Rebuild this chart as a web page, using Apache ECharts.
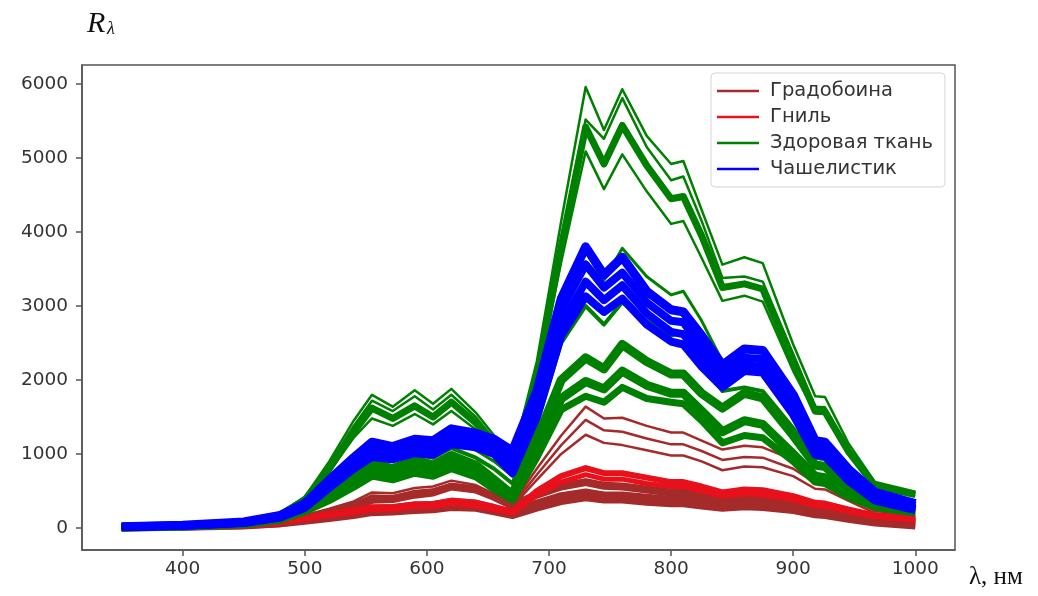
<!DOCTYPE html>
<html>
<head>
<meta charset="utf-8">
<script src="https://cdn.jsdelivr.net/npm/echarts@6/dist/echarts.min.js"></script>
<style>
html, body { margin: 0; padding: 0; background: #fff; }
#chart { width: 1038px; height: 596px; }
</style>
</head>
<body>
<div id="chart"></div>
<script>
// длины волн, нм
const wavelengths = [350, 400, 450, 480, 500, 520, 540, 555, 572, 590, 605, 620, 640, 655, 670, 690, 710,
  730, 745, 760, 780, 800, 810, 825, 842, 860, 875, 900, 918, 926, 945, 967, 1000];
const xTicks = [400, 500, 600, 700, 800, 900, 1000];
const yTicks = [0, 1000, 2000, 3000, 4000, 5000, 6000];
const names = ['Градобоина', 'Гниль', 'Здоровая ткань', 'Чашелистик'];

// Градобоина
const hail1 = [10, 25, 50, 100, 170, 260, 360, 480, 470, 540, 560, 640, 580, 460, 330, 800, 1250, 1640, 1480, 1490, 1380, 1290, 1290, 1180, 1060, 1110, 1090, 920, 700, 680, 480, 260, 190];
const hail2 = [10, 24, 48, 95, 160, 240, 330, 440, 430, 500, 520, 590, 540, 430, 310, 720, 1120, 1460, 1320, 1300, 1210, 1130, 1130, 1040, 920, 960, 950, 800, 610, 600, 420, 230, 170];
const hail3 = [9, 22, 45, 90, 150, 220, 300, 400, 400, 460, 480, 550, 500, 400, 290, 650, 1000, 1260, 1150, 1120, 1050, 980, 980, 900, 780, 830, 820, 700, 530, 520, 370, 200, 150];
const hail4 = [8, 20, 40, 80, 140, 210, 300, 380, 390, 450, 480, 560, 520, 420, 300, 450, 560, 620, 570, 560, 520, 480, 480, 430, 380, 410, 400, 340, 270, 260, 200, 130, 80];
const hail5 = [6, 15, 32, 65, 110, 160, 210, 260, 270, 300, 310, 350, 330, 270, 200, 330, 430, 480, 440, 440, 410, 380, 380, 340, 300, 330, 320, 270, 210, 200, 150, 90, 50];
const hail6 = [5, 12, 25, 50, 85, 120, 160, 200, 210, 230, 240, 270, 260, 210, 160, 260, 350, 400, 370, 370, 340, 320, 320, 290, 260, 280, 270, 230, 170, 160, 110, 60, 20];

// Гниль
const rot1 = [8, 20, 40, 80, 130, 190, 240, 280, 280, 320, 320, 370, 340, 280, 220, 500, 700, 810, 740, 740, 680, 620, 620, 560, 480, 520, 510, 430, 340, 330, 250, 170, 120];
const rot2 = [7, 18, 36, 72, 120, 170, 210, 250, 250, 290, 290, 330, 300, 250, 200, 450, 620, 720, 660, 660, 600, 560, 560, 500, 430, 460, 450, 380, 300, 290, 220, 150, 100];

// Здоровая ткань
const leaf1 = [20, 40, 90, 200, 420, 900, 1450, 1800, 1640, 1860, 1680, 1880, 1560, 1250, 950, 2250, 4150, 5960, 5380, 5930, 5300, 4920, 4960, 4300, 3560, 3660, 3580, 2480, 1780, 1770, 1150, 620, 490];
const leaf2 = [18, 38, 85, 190, 400, 850, 1380, 1720, 1580, 1780, 1600, 1800, 1500, 1200, 920, 2150, 3900, 5520, 5260, 5810, 5150, 4700, 4750, 4150, 3380, 3400, 3330, 2350, 1640, 1630, 1080, 590, 470];
const leaf3 = [17, 36, 82, 180, 380, 800, 1300, 1620, 1480, 1650, 1500, 1700, 1420, 1150, 880, 2050, 3800, 5420, 4920, 5440, 4900, 4450, 4480, 3950, 3250, 3300, 3230, 2250, 1580, 1570, 1040, 570, 450];
const leaf4 = [16, 34, 78, 170, 360, 760, 1220, 1480, 1380, 1540, 1400, 1580, 1330, 1080, 850, 1950, 3600, 5090, 4580, 5050, 4550, 4110, 4150, 3650, 3070, 3140, 3060, 2120, 1550, 1540, 1000, 550, 430];
const leaf5 = [15, 32, 70, 150, 300, 520, 800, 1050, 1000, 1120, 1050, 1200, 1050, 900, 700, 1600, 2900, 3600, 3350, 3780, 3400, 3150, 3200, 2800, 2250, 2300, 2250, 1650, 1100, 1080, 720, 400, 300];
const leaf6 = [14, 30, 65, 140, 280, 480, 720, 950, 900, 1000, 950, 1080, 950, 800, 600, 1400, 2500, 3000, 2750, 3050, 2800, 2600, 2650, 2300, 1850, 1900, 1850, 1350, 950, 930, 620, 360, 270];
const leaf7 = [14, 30, 62, 130, 260, 450, 680, 880, 800, 920, 850, 980, 850, 650, 450, 1200, 2000, 2300, 2150, 2480, 2250, 2080, 2080, 1820, 1620, 1820, 1760, 1250, 850, 830, 560, 330, 260];
const leaf8 = [13, 28, 58, 120, 240, 400, 600, 760, 700, 800, 750, 860, 740, 560, 400, 1050, 1750, 1980, 1880, 2120, 1930, 1820, 1820, 1580, 1300, 1450, 1400, 1000, 700, 680, 460, 300, 220];
const leaf9 = [12, 26, 55, 110, 220, 370, 550, 700, 650, 740, 700, 800, 690, 520, 380, 950, 1600, 1780, 1700, 1900, 1750, 1700, 1680, 1450, 1150, 1250, 1220, 900, 620, 600, 420, 280, 200];

// Чашелистик
const sepal1 = [15, 35, 80, 170, 330, 650, 950, 1160, 1100, 1200, 1180, 1340, 1280, 1200, 1040, 1850, 3100, 3800, 3420, 3660, 3200, 2950, 2920, 2600, 2200, 2420, 2400, 1800, 1180, 1160, 800, 480, 330];
const sepal2 = [14, 33, 75, 160, 310, 610, 900, 1100, 1040, 1140, 1120, 1280, 1220, 1140, 950, 1750, 2950, 3560, 3250, 3450, 3050, 2800, 2780, 2450, 2080, 2300, 2280, 1700, 1120, 1100, 740, 440, 300];
const sepal3 = [13, 31, 70, 150, 290, 570, 850, 1020, 980, 1070, 1050, 1200, 1150, 1060, 820, 1600, 2750, 3330, 3080, 3280, 2900, 2650, 2620, 2300, 1980, 2200, 2180, 1600, 1040, 1020, 680, 400, 260];
const sepal4 = [12, 29, 66, 140, 270, 540, 800, 960, 930, 1010, 990, 1130, 1090, 1000, 740, 1500, 2600, 3130, 2920, 3100, 2750, 2520, 2480, 2180, 1900, 2120, 2100, 1530, 990, 970, 640, 370, 240];

const groups = [
  { name: names[0], color: '#a52a2a', curves: [[hail1, 2.5], [hail2, 2.5], [hail3, 2.5], [hail4, 8], [hail5, 8], [hail6, 6]] },
  { name: names[1], color: '#e8101a', curves: [[rot1, 6], [rot2, 5]] },
  { name: names[2], color: '#008000', curves: [[leaf1, 2.5], [leaf2, 2.5], [leaf3, 7], [leaf4, 2.5], [leaf5, 3],
    [leaf6, 4], [leaf7, 9], [leaf8, 9], [leaf9, 7]] },
  { name: names[3], color: '#0000ff', curves: [[sepal1, 9], [sepal2, 8], [sepal3, 8], [sepal4, 8]] }
];

const series = [];
groups.forEach(function (g) {
  g.curves.forEach(function (c) {
    series.push({
      name: g.name,
      type: 'line',
      data: wavelengths.map(function (x, i) { return [x, c[0][i]]; }),
      symbol: 'none',
      silent: true,
      lineStyle: { color: g.color, width: c[1], join: 'round' },
      itemStyle: { color: g.color }
    });
  });
});

const plain = function (v) { return String(v); };

const chart = echarts.init(document.getElementById('chart'));
chart.setOption({
  animation: false,
  backgroundColor: '#fff',
  grid: { left: 82, top: 65, width: 873, height: 485, show: true, borderColor: '#555', borderWidth: 1.5 },
  xAxis: {
    type: 'value', min: 317.5, max: 1032.5,
    axisLine: { show: true, onZero: false, lineStyle: { color: '#555', width: 1.5 } },
    axisTick: { show: true, length: 6, customValues: xTicks, lineStyle: { color: '#555', width: 1.5 } },
    axisLabel: { customValues: xTicks, formatter: plain, fontFamily: 'DejaVu Sans', fontSize: 18.5, color: '#333', margin: 10 },
    splitLine: { show: false }
  },
  yAxis: {
    type: 'value', min: -298, max: 6258,
    axisLine: { show: true, onZero: false, lineStyle: { color: '#555', width: 1.5 } },
    axisTick: { show: true, length: 6, customValues: yTicks, lineStyle: { color: '#555', width: 1.5 } },
    axisLabel: { customValues: yTicks, formatter: plain, fontFamily: 'DejaVu Sans', fontSize: 18.5, color: '#333', margin: 14 },
    splitLine: { show: false }
  },
  legend: {
    orient: 'vertical', left: 711, top: 73,
    padding: [8, 12, 8, 6],
    icon: 'rect', itemWidth: 42, itemHeight: 2.5, itemGap: 6,
    borderColor: '#d5d5d5', borderWidth: 1, borderRadius: 4, backgroundColor: '#fff',
    textStyle: { fontFamily: 'DejaVu Sans', fontSize: 19.5, lineHeight: 20, color: '#333', padding: [0, 0, 0, 6] },
    data: names
  },
  graphic: [
    { type: 'text', left: 87, top: 9, style: { text: 'R', font: 'italic 30px "Liberation Serif"', fill: '#111' } },
    { type: 'text', left: 107, top: 20, style: { text: 'λ', font: 'italic 18px "Liberation Serif"', fill: '#111' } },
    { type: 'text', left: 969, top: 565, style: { text: 'λ, нм', font: '25px "Liberation Serif"', fill: '#111' } }
  ],
  series: series
});
</script>
</body>
</html>
